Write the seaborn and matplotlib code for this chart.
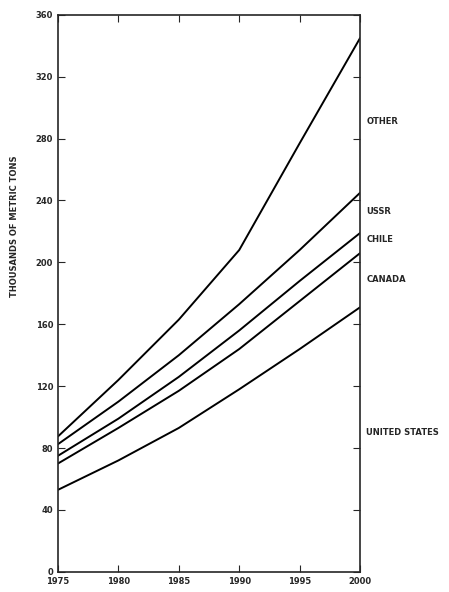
import pandas as pd
import matplotlib.pyplot as plt
import seaborn as sns

# Cumulative (stacked) consumption lines, thousands of metric tons
years = [1975, 1980, 1985, 1990, 1995, 2000]
united_states = [53, 72, 93, 118, 144, 171]
canada = [70, 93, 117, 144, 175, 206]
chile = [75, 99, 126, 156, 188, 219]
ussr = [82.5, 110, 140, 173, 208, 245]
other = [87.5, 124, 163, 208, 277, 345]

series = {
    "UNITED STATES": united_states,
    "CANADA": canada,
    "CHILE": chile,
    "USSR": ussr,
    "OTHER": other,
}
label_y = {"OTHER": 291, "USSR": 233, "CHILE": 215, "CANADA": 189, "UNITED STATES": 90}

rows = []
for name, vals in series.items():
    for yr, v in zip(years, vals):
        rows.append({"year": yr, "value": v, "region": name})
df = pd.DataFrame(rows)

sns.set_style("ticks")
plt.rcParams["font.family"] = ["DejaVu Sans"]

fig = plt.figure(figsize=(4.49, 5.92), dpi=100)
ax = fig.add_axes([0.129, 0.034, 0.673, 0.941])

sns.lineplot(data=df, x="year", y="value", units="region", estimator=None,
             color="black", linewidth=1.4, legend=False, ax=ax)

ax.set_xlim(1975, 2000)
ax.set_ylim(0, 360)
ax.set_xticks(range(1975, 2001, 5))
ax.set_yticks(range(0, 361, 40))
ax.tick_params(direction="in", top=True, right=True, length=5, width=0.8,
               labelsize=6)
for lab in ax.get_xticklabels() + ax.get_yticklabels():
    lab.set_fontweight("bold")
for sp in ax.spines.values():
    sp.set_linewidth(1.2)

ax.set_xlabel("")
ax.set_ylabel("THOUSANDS OF METRIC TONS", fontsize=6, fontweight="bold")
ax.yaxis.set_label_coords(-0.13, 0.62)

for name, yv in label_y.items():
    ax.text(2000.5, yv, name, fontsize=6, fontweight="bold",
            va="center", ha="left", clip_on=False)

fig.savefig("out.png", dpi=100, facecolor="white")
